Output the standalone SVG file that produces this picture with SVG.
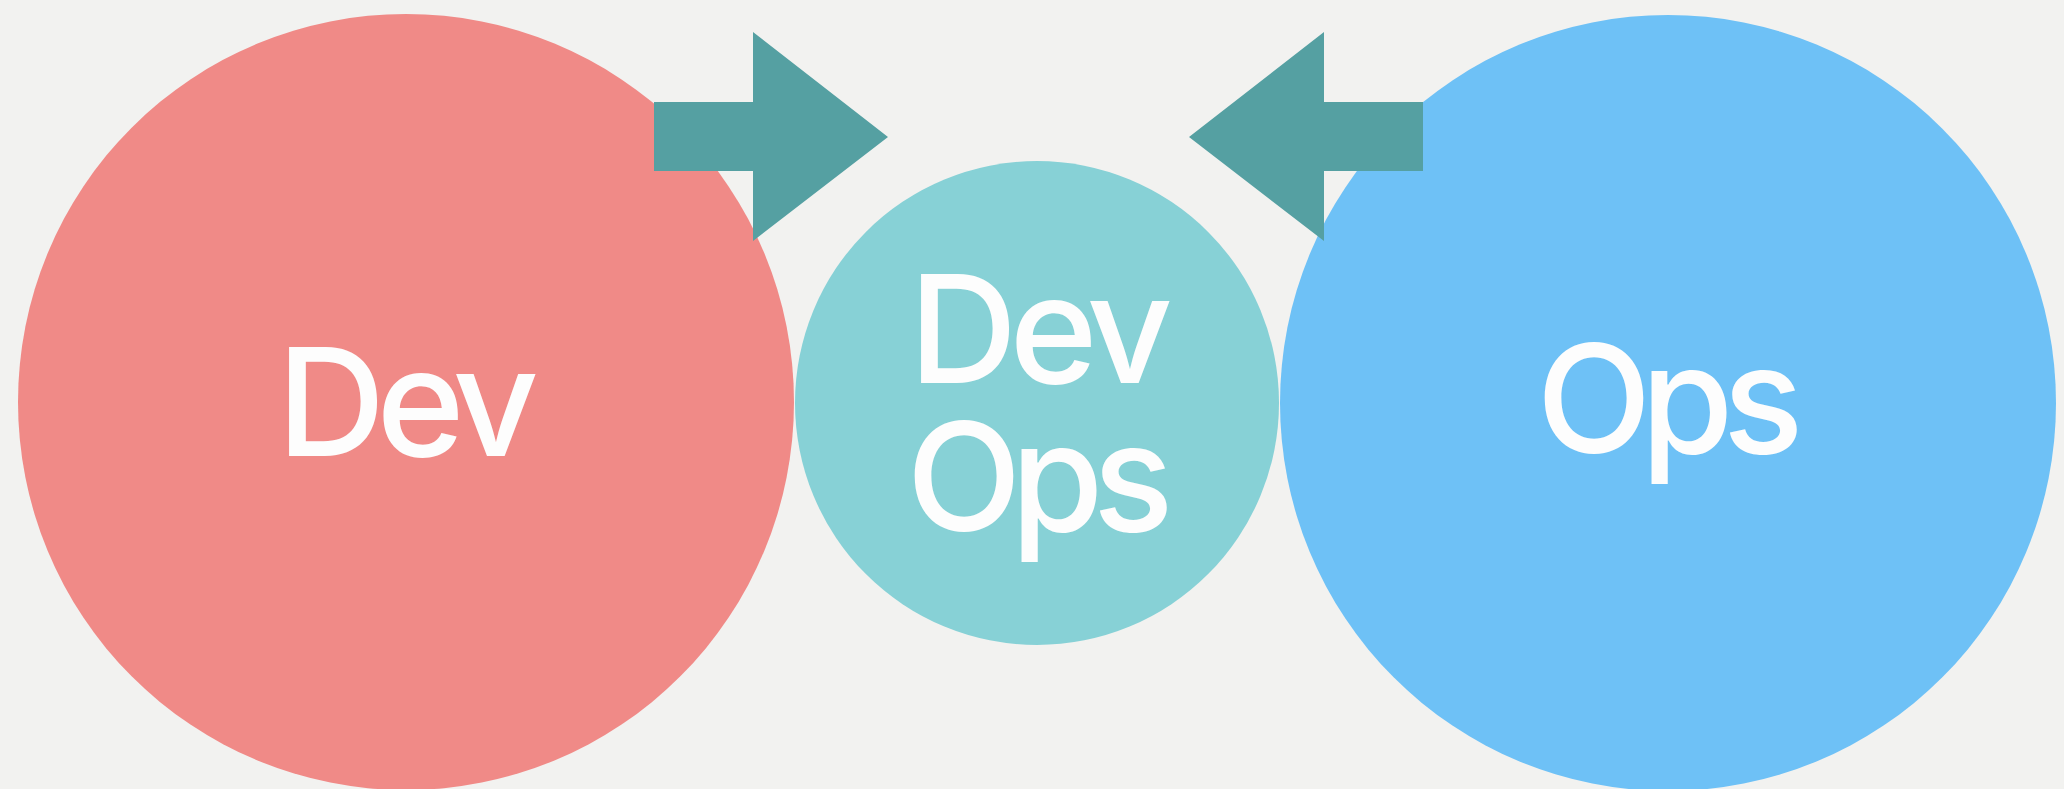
<svg xmlns="http://www.w3.org/2000/svg" width="2064" height="789" viewBox="0 0 2064 789">
<style>
.lbl{font-family:Inter,"Liberation Sans",Arial,sans-serif;font-size:150px;font-weight:500;fill:#fdfdfd;text-anchor:middle}
.arrow{fill:#55a0a2}
</style>
<rect width="2064" height="789" fill="#f2f2f0"/>
<g id="node-dev">
<circle cx="406" cy="402" r="388" fill="#f08a87"/>
<text class="lbl" x="408" y="456" textLength="262">Dev</text>
</g>
<g id="node-ops">
<circle cx="1668" cy="403" r="388" fill="#6ec1f6"/>
<text class="lbl" x="1670" y="453" textLength="267">Ops</text>
</g>
<g id="node-devops">
<circle cx="1037" cy="403" r="242" fill="#87d1d6"/>
<text class="lbl" x="1041" y="383" textLength="264">Dev</text>
<text class="lbl" x="1040" y="531" textLength="267">Ops</text>
</g>
<g id="connectors">
<polygon class="arrow" points="654,102 753,102 753,32 888,137 753,241 753,171 654,171"/>
<polygon class="arrow" points="1423,102 1324,102 1324,32 1189,137 1324,241 1324,171 1423,171"/>
</g>
</svg>
